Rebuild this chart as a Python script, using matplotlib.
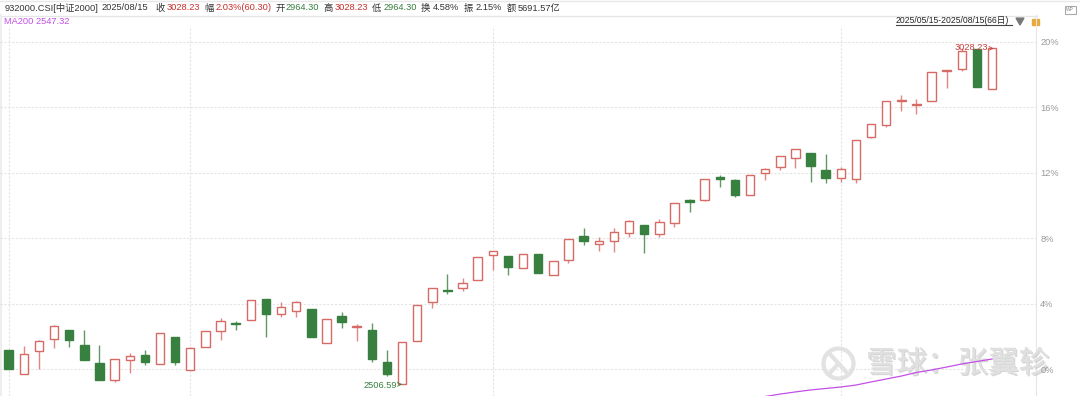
import matplotlib
matplotlib.use('Agg')
import matplotlib.pyplot as plt
from matplotlib.patches import Circle, Polygon, Rectangle
import matplotlib.patheffects as pe

plt.rcParams['font.family'] = ['Liberation Sans', 'Noto Sans CJK SC', 'DejaVu Sans']

# candle values, % change against the base of the range
opens = [1.16, -0.32, 1.12, 1.85, 2.36, 1.47, 0.37, -0.69, 0.53, 0.84, 0.29, 1.94, -0.04, 1.34, 2.32, 2.83,
         2.97, 4.26, 3.38, 3.52, 3.68, 1.59, 3.22, 2.55, 2.36, 0.43, -0.93, 1.71, 4.07, 4.82, 4.96, 5.45,
         6.94, 6.92, 6.15, 7.00, 5.74, 6.67, 8.10, 7.65, 7.80, 8.29, 8.78, 8.24, 8.90, 10.30, 10.34, 11.71,
         11.56, 10.61, 11.95, 12.35, 12.89, 13.17, 12.15, 11.68, 11.62, 14.19, 14.92, 16.39, 16.14, 16.35,
         18.18, 18.34, 19.54, 17.10]
closes = [-0.02, 0.90, 1.73, 2.61, 1.79, 0.53, -0.67, 0.59, 0.81, 0.45, 2.22, 0.41, 1.26, 2.30, 2.91, 2.73,
          4.21, 3.36, 3.80, 4.07, 1.94, 3.07, 2.89, 2.61, 0.59, -0.31, 1.63, 3.89, 4.93, 4.75, 5.23, 6.86,
          7.19, 6.25, 7.02, 5.84, 6.58, 7.96, 7.84, 7.80, 8.35, 9.02, 8.24, 8.96, 10.14, 10.18, 11.60, 11.60,
          10.61, 11.87, 12.20, 12.99, 13.42, 12.42, 11.66, 12.20, 13.97, 14.94, 16.35, 16.43, 16.18, 18.14,
          18.24, 19.44, 17.20, 19.58]
highs = [1.16, 1.40, 1.77, 2.69, 2.36, 2.36, 1.47, 0.59, 0.96, 1.16, 2.22, 1.94, 1.33, 2.30, 3.11, 2.91,
         4.21, 4.26, 4.09, 4.15, 3.68, 3.07, 3.48, 2.73, 2.79, 1.14, 1.63, 3.89, 4.93, 5.78, 5.58, 6.86,
         7.19, 6.92, 7.02, 7.00, 6.58, 7.96, 8.63, 8.08, 8.59, 9.10, 8.78, 9.14, 10.14, 10.40, 11.60, 11.85,
         11.60, 11.87, 12.28, 12.99, 13.42, 13.17, 13.11, 12.34, 13.97, 14.94, 16.35, 16.71, 16.47, 18.14,
         18.24, 19.58, 19.54, 19.58]
lows = [-0.02, -0.32, -0.02, 1.30, 1.36, 0.53, -0.67, -0.78, -0.23, 0.24, 0.29, 0.26, -0.04, 1.34, 1.77, 2.36,
        2.97, 1.97, 3.18, 3.18, 1.94, 1.59, 2.52, 1.73, 0.45, -0.43, -0.93, 1.71, 3.74, 4.56, 4.75, 5.45,
        6.06, 5.76, 6.15, 5.84, 5.74, 6.49, 7.57, 7.22, 7.16, 8.08, 7.10, 8.08, 8.67, 9.61, 10.28, 11.11,
        10.49, 10.61, 11.54, 12.17, 12.26, 11.44, 11.38, 11.44, 11.34, 14.13, 14.80, 15.76, 15.55, 16.35,
        17.16, 18.22, 17.20, 17.10]
ma200_idx = [50, 51, 52, 53, 54, 55, 56, 57, 58, 59, 60, 61, 62, 63, 64, 65]
ma200 = [-1.68, -1.53, -1.40, -1.28, -1.19, -1.10, -0.98, -0.79, -0.61, -0.43, -0.21, -0.06, 0.12, 0.31, 0.46, 0.61]
y_ticks = [0, 4, 8, 12, 16, 20]
x_grid = [0, 12, 32, 55]

red = '#d66a64'
green = '#38803f'
gray = '#9a9a9a'
dark = '#333333'
fs = 6.7

fig = plt.figure(figsize=(10.8, 3.96), dpi=100)

# header strip and other chrome, drawn in pixel coordinates, under the chart
ov = fig.add_axes([0, 0, 1, 1], zorder=1)
ov.set_xlim(0, 1080)
ov.set_ylim(396, 0)
ov.axis('off')
ov.plot([0, 1080], [0.5, 0.5], color='#e8e8e8', linewidth=1)
ov.plot([0, 1037], [15.5, 15.5], color='#e6e6e6', linewidth=1)
ov.plot([1036, 1036], [15, 396], color='#e6e6e6', linewidth=0.8)
ov.plot([1, 1], [15, 396], color='#eeeeee', linewidth=1.5)

header = [(4.5, '932000.CSI[中证2000]', dark), (102, '2025/08/15', dark), (155, '收', dark), (166.5, '3028.23', '#c8302c'),
          (204, '幅', dark), (215.5, '2.03%(60.30)', '#c8302c'), (275, '开', dark), (285.5, '2964.30', green),
          (323.5, '高', dark), (334.5, '3028.23', '#c8302c'), (372, '低', dark), (383.5, '2964.30', green),
          (421, '换', dark), (432.5, '4.58%', dark), (464, '振', dark), (475.5, '2.15%', dark),
          (507, '额', dark), (518, '5691.57亿', dark)]
for x, t, c in header:
    ov.text(x, 8, t, color=c, fontsize=fs, va='center', ha='left')
ov.text(4.5, 21, 'MA200 2547.32', color='#c44fe8', fontsize=fs, va='center', ha='left')

ov.text(896, 20.5, '2025/05/15-2025/08/15(66日)', color='#222222', fontsize=6.2, va='center', ha='left')
ov.plot([896, 1012], [25, 25], color='#444444', linewidth=0.8)
ov.add_patch(Polygon([[1016, 18], [1024, 18], [1020, 25]], color='#777777'))
ov.add_patch(Rectangle((1032, 19), 6.5, 5.5, color='#e8a93a'))
ov.add_patch(Rectangle((1064.5, 5.5), 11, 8, facecolor='white', edgecolor='#aaaaaa', linewidth=0.8))
ov.text(1070, 9.5, 'WP', color='#888888', fontsize=3.5, ha='center', va='center')

# watermark
ov.add_patch(Circle((838.5, 363.5), 15, facecolor='none', edgecolor='#e2e2e2', linewidth=3))
ov.plot([829, 848], [353, 374], color='#e2e2e2', linewidth=3)
ov.plot([829, 838], [374, 364], color='#e2e2e2', linewidth=3)
wm = ov.text(866, 364, '雪球：张翼轸', color='#e0e0e0', fontsize=22, va='center', ha='left',
             family=['Noto Sans CJK SC', 'DejaVu Sans'])
wm.set_path_effects([pe.withSimplePatchShadow(offset=(1, -1), shadow_rgbFace='#bbbbbb', alpha=0.6), pe.Normal()])

ax = fig.add_axes([0, 0, 1036 / 1080, 370 / 396], zorder=2, facecolor='none')
ax.set_xlim(-0.575, 67.9)
ax.set_ylim(-1.649, 20.95)
for s in ax.spines.values():
    s.set_visible(False)
ax.yaxis.tick_right()
ax.set_xticks(x_grid)
ax.set_xticklabels([])
ax.set_yticks(y_ticks)
ax.set_yticklabels([str(t) + '%' for t in y_ticks], color=gray, fontsize=fs)
ax.tick_params(length=0, pad=3)
ax.grid(True, color='#e4e4e4', linewidth=0.8, linestyle=(0, (2, 1.5)))
ax.set_axisbelow(True)

for i in range(len(opens)):
    up = closes[i] >= opens[i]
    c = red if up else green
    ax.vlines(i, lows[i], highs[i], color=c, linewidth=1.0, alpha=0.8, zorder=2)
    ax.bar(i, abs(closes[i] - opens[i]), bottom=min(opens[i], closes[i]), width=0.56,
           facecolor='white' if up else c, edgecolor=c, linewidth=1.0, zorder=3)

ax.plot(ma200_idx, ma200, color='#c44fe8', linewidth=0.9, zorder=4)

ax.annotate('3028.23', xy=(65.1, max(highs)), xytext=(955, 396 - 48), textcoords='figure pixels',
            color='#c8423e', fontsize=fs, va='center', zorder=6,
            arrowprops=dict(arrowstyle='->', color='#c8423e', linewidth=0.6, shrinkA=0, shrinkB=0))
ax.annotate('2506.59', xy=(26, min(lows)), xytext=(364, 396 - 385), textcoords='figure pixels',
            color=green, fontsize=fs, va='center', zorder=6,
            arrowprops=dict(arrowstyle='->', color=green, linewidth=0.6, shrinkA=0, shrinkB=0))

fig.savefig('out.png', dpi=100)
